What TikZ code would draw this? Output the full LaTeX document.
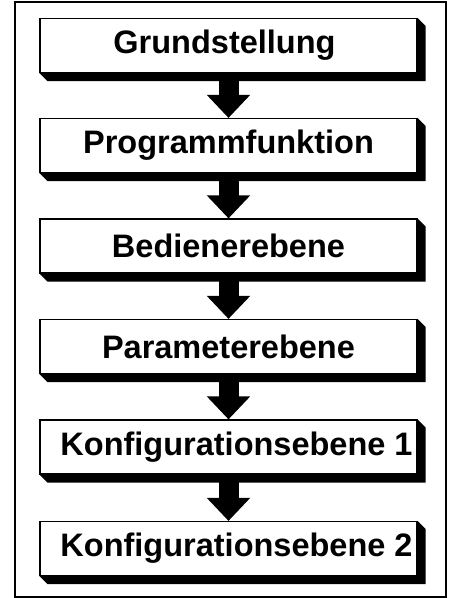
\documentclass[tikz,border=0pt]{standalone}
\usepackage{fontspec}
\setmainfont{Liberation Sans}
\usetikzlibrary{arrows.meta}

\tikzset{
  ebene/.style={draw, line width=1.2pt, fill=white, minimum width=377pt,
    minimum height=54pt, inner sep=0pt, font=\fontsize{32.5}{36}\selectfont\bfseries},
  pfeil/.style={line width=20pt, -{Triangle[width=42pt,length=23pt]}, shorten <=6pt}
}

\begin{document}
\begin{tikzpicture}[x=1pt,y=-1pt]
    \useasboundingbox (0,0) rectangle (452,598);
    \draw[line width=1.8pt] (15,2) rectangle (446,597);

    \node[ebene] (e1) at (228.5,45.5) {\hspace*{-8pt}Grundstellung};
    \node[ebene] (e2) at (228.5,145.5) {Programmfunktion};
    \node[ebene] (e3) at (228.5,246) {Bedienerebene};
    \node[ebene] (e4) at (228.5,346.5) {Parameterebene};
    \node[ebene] (e5) at (228.5,447) {\hspace*{16pt}Konfigurationsebene 1};
    \node[ebene] (e6) at (228.5,548.5) {\hspace*{16pt}Konfigurationsebene 2};

    % 3D-Schatten
    \foreach \e in {e1,e2,e3,e4,e5,e6}
      \fill (\e.south west) -- ++(8,8) -- ([shift={(8,8)}]\e.south east)
        -- ([shift={(8,8)}]\e.north east) -- (\e.north east) -- (\e.south east) -- cycle;

    \draw[pfeil] (e1.south) -- (e2.north);
    \draw[pfeil] (e2.south) -- (e3.north);
    \draw[pfeil] (e3.south) -- (e4.north);
    \draw[pfeil] (e4.south) -- (e5.north);
    \draw[pfeil] (e5.south) -- (e6.north);
\end{tikzpicture}
\end{document}
